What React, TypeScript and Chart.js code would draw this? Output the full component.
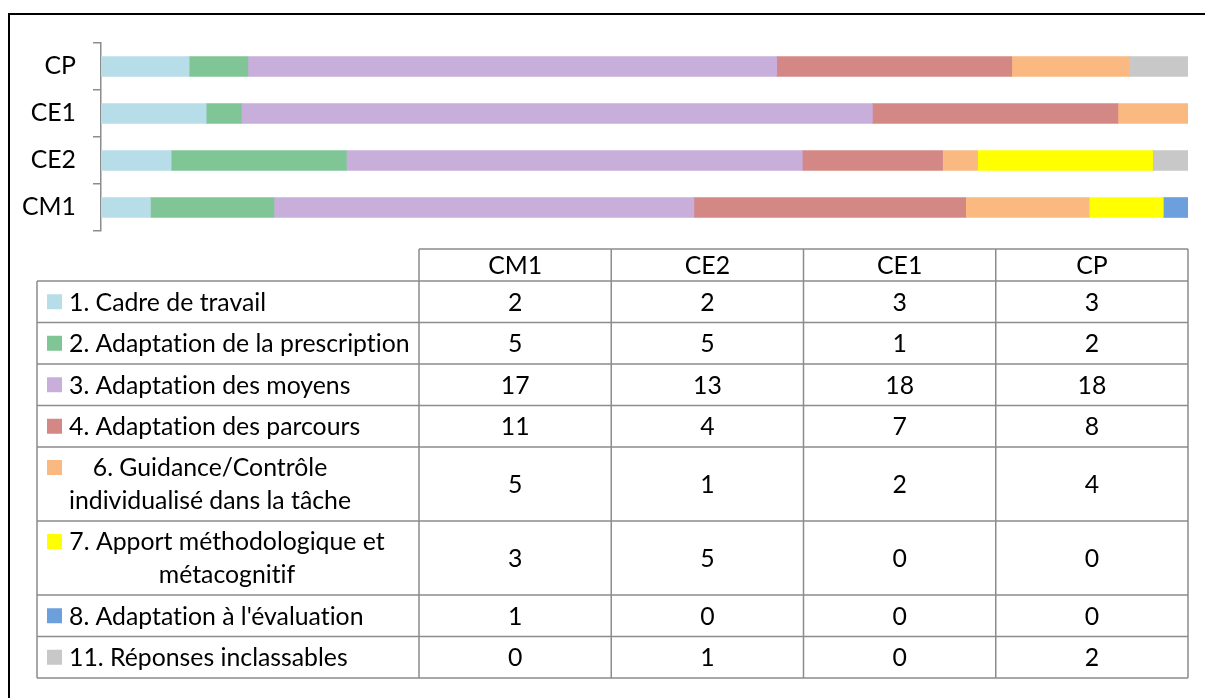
import React, { useEffect, useRef } from "react";
import { Chart, registerables } from "chart.js";

Chart.register(...registerables);

const categories = ["CM1", "CE2", "CE1", "CP"];
const seriesNames = [
  "1. Cadre de travail",
  "2. Adaptation de la prescription",
  "3. Adaptation des moyens",
  "4. Adaptation des parcours",
  "6. Guidance/Contrôle individualisé dans la tâche",
  "7. Apport méthodologique et métacognitif",
  "8. Adaptation à l'évaluation",
  "11. Réponses inclassables",
];
const tableLabelLines = [
  ["1. Cadre de travail"],
  ["2. Adaptation de la prescription"],
  ["3. Adaptation des moyens"],
  ["4. Adaptation des parcours"],
  ["6. Guidance/Contrôle", "individualisé dans la tâche"],
  ["7. Apport méthodologique et", "métacognitif"],
  ["8. Adaptation à l'évaluation"],
  ["11. Réponses inclassables"],
];
const cadre = [2, 2, 3, 3];
const prescription = [5, 5, 1, 2];
const moyens = [17, 13, 18, 18];
const parcours = [11, 4, 7, 8];
const guidance = [5, 1, 2, 4];
const apport = [3, 5, 0, 0];
const evaluation = [1, 0, 0, 0];
const inclassables = [0, 1, 0, 2];
const seriesValues = [cadre, prescription, moyens, parcours, guidance, apport, evaluation, inclassables];
const colors = ["#B7DDE8", "#80C596", "#C8AEDB", "#D48886", "#F9B981", "#FFFF00", "#6CA0DC", "#C8C8C8"];

const FAMILY = "Lato, 'Open Sans', sans-serif";

function fitFontSize(): number {
  const c = document.createElement("canvas");
  const ctx = c.getContext("2d")!;
  ctx.font = `20px ${FAMILY}`;
  const w = ctx.measureText("2. Adaptation de la prescription").width;
  return Math.round((20 * 341) / w * 10) / 10;
}

export default function App() {
  const ref = useRef<HTMLCanvasElement>(null);
  useEffect(() => {
    const fs = fitFontSize();
    const totals = categories.map((_, j) => seriesValues.reduce((s, arr) => s + arr[j], 0));

    const tablePlugin = {
      id: "dataTable",
      afterDraw(chart: any) {
        const ctx = chart.ctx as CanvasRenderingContext2D;
        ctx.save();
        try {
          (ctx as any).textRendering = "optimizeSpeed";
        } catch (e) {}
        // outer border
        ctx.strokeStyle = "#000";
        ctx.lineWidth = 2;
        ctx.strokeRect(9, 14, 1300, 800);

        const left = 37;
        const labelRight = 419;
        const right = 1188;
        const colW = (right - labelRight) / categories.length;
        const headTop = 249;
        const headBottom = 281;
        const rowHeights = tableLabelLines.map((l) => (l.length > 1 ? 74 : 41.5));
        const bottom = headBottom + rowHeights.reduce((a, b) => a + b, 0);

        ctx.font = `${fs}px ${FAMILY}`;
        ctx.fillStyle = "#000";
        ctx.textBaseline = "middle";

        // header
        ctx.textAlign = "center";
        categories.forEach((c, j) => {
          ctx.fillText(c, labelRight + colW * (j + 0.5), (headTop + headBottom) / 2 + 1);
        });

        // rows
        let y = headBottom;
        const multiCenters = [210, 227];
        let multiIdx = 0;
        tableLabelLines.forEach((lines, i) => {
          const h = rowHeights[i];
          const cy = y + h / 2;
          ctx.fillStyle = colors[i];
          if (lines.length === 1) {
            ctx.fillRect(47, cy - 7.5, 15, 15);
            ctx.fillStyle = "#000";
            ctx.textAlign = "left";
            ctx.fillText(lines[0], 69, cy + 1);
          } else {
            const lc = cy - 16.5;
            ctx.fillRect(47, lc - 7.5, 15, 15);
            ctx.fillStyle = "#000";
            ctx.textAlign = "center";
            const cx = multiCenters[multiIdx++] ?? 220;
            lines.forEach((t, k) => ctx.fillText(t, cx, lc + k * 33 + 1));
          }
          ctx.textAlign = "center";
          categories.forEach((_, j) => {
            ctx.fillText(String(seriesValues[i][j]), labelRight + colW * (j + 0.5), cy + 1);
          });
          y += h;
        });

        // grid lines
        ctx.strokeStyle = "#8C8C8C";
        ctx.lineWidth = 1.5;
        ctx.beginPath();
        ctx.moveTo(labelRight, headTop);
        ctx.lineTo(right, headTop);
        for (let j = 0; j <= categories.length; j++) {
          const x = labelRight + colW * j;
          ctx.moveTo(x, headTop);
          ctx.lineTo(x, bottom);
        }
        ctx.moveTo(left, headBottom);
        ctx.lineTo(left, bottom);
        let yy = headBottom;
        ctx.moveTo(left, yy);
        ctx.lineTo(right, yy);
        rowHeights.forEach((h) => {
          yy += h;
          ctx.moveTo(left, yy);
          ctx.lineTo(right, yy);
        });
        ctx.stroke();
        ctx.restore();
      },
    };

    const chart = new Chart(ref.current!, {
      type: "bar",
      data: {
        labels: categories,
        datasets: seriesValues.map((vals, i) => ({
          label: seriesNames[i],
          data: vals.map((v, j) => (v / totals[j]) * 100),
          backgroundColor: colors[i],
          borderWidth: 0,
          barThickness: 20,
        })),
      },
      options: {
        indexAxis: "y",
        responsive: false,
        animation: false,
        plugins: { legend: { display: false }, tooltip: { enabled: false } },
        layout: { padding: { top: 43, right: 17, bottom: 467, left: 0 } },
        scales: {
          x: { stacked: true, min: 0, max: 100, display: false },
          y: {
            stacked: true,
            reverse: true,
            afterFit: (s: any) => {
              s.width = 101;
            },
            grid: { offset: true, drawOnChartArea: false, drawTicks: true, tickLength: 8, color: "#8C8C8C", lineWidth: 1.5 },
            border: { display: true, color: "#8C8C8C", width: 1.5 },
            ticks: { color: "#000", font: { family: FAMILY, size: fs }, padding: 17 },
          },
        },
      },
      plugins: [tablePlugin],
    } as any);
    return () => chart.destroy();
  }, []);
  return (
    <div style={{ position: "fixed", left: 0, top: 0, width: 1205, height: 698, background: "#fff" }}>
      <canvas ref={ref} width={1205} height={698} style={{ display: "block" }} />
    </div>
  );
}
